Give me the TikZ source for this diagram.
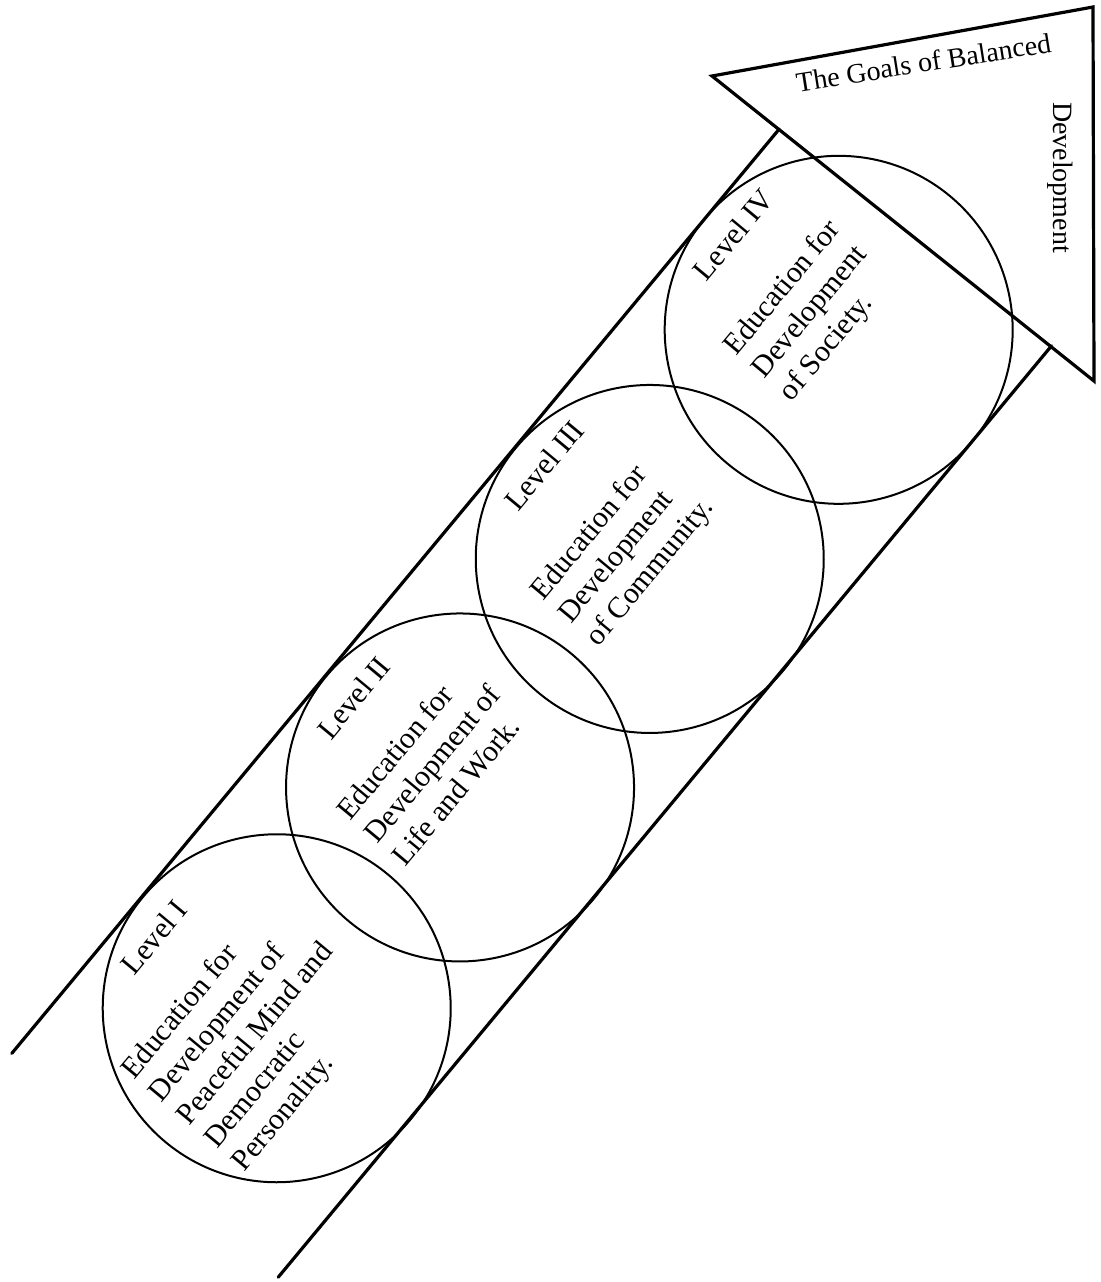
\documentclass[tikz,border=0pt]{standalone}
\usepackage{fontspec}
\setmainfont{Liberation Serif}

\begin{document}
\begin{tikzpicture}[x=0.5pt, y=0.5pt,
	ring/.style={circle, draw, line width=1pt, minimum size=174pt, inner sep=0pt},
	rail/.style={line width=1.6pt, line cap=round, line join=miter},
	lvl/.style={anchor=north west, inner sep=0pt, align=left, font=\fontsize{15}{18}\selectfont},
	tag/.style={anchor=base, inner sep=0pt, font=\fontsize{14}{17}\selectfont}
	]
	\useasboundingbox (0,0) rectangle (1101,-1282);
	
	% arrow head
	\coordinate (A) at (712,-76);
	\coordinate (B) at (1093,-7);
	\coordinate (C) at (1094,-381);
	\draw [rail] (A) -- (B) -- (C) -- cycle;
	\node[tag, rotate=9] (goal) at (925,-72) {The Goals of Balanced};
	\node[tag, rotate=-90] (dev) at (1053,-177.5) {Development};
	
	% the shaft, drawn in its own turned frame
	\begin{scope}[rotate=50.3, transform shape]
	\coordinate (l0) at (-803,-682);
	\coordinate (l1) at (398.4,-682);
	\coordinate (r0) at (-805,-1030);
	\coordinate (r1) at (405.7,-1030);
	\draw [rail] (l0) -- (l1);
	\draw [rail] (r0) -- (r1);
	
	\node[ring] (c1) at (-599,-857) {};
	\node[ring] (c2) at (-312,-857) {};
	\node[ring] (c3) at (-15,-857) {};
	\node[ring] (c4) at (282,-856) {};
	
	\node[lvl] (t1) at (-746,-706) {\hspace*{40pt}Level I\\[15pt]
		Education for\\ Development of\\ Peaceful Mind and\\ Democratic\\ Personality.};
	\node[lvl] (t2) at (-409,-707) {\hspace*{25pt}Level II\\[15pt]
		Education for\\ Development of\\ Life and Work.};
	\node[lvl] (t3) at (-116,-705) {\hspace*{26pt}Level III\\[20pt]
		Education for\\ Development\\ of Community.};
	\node[lvl] (t4) at (196,-703) {\hspace*{19pt}Level IV\\[17pt]
		Education for\\ Development\\ of Society.};
	\end{scope}
	
\end{tikzpicture}
\end{document}
